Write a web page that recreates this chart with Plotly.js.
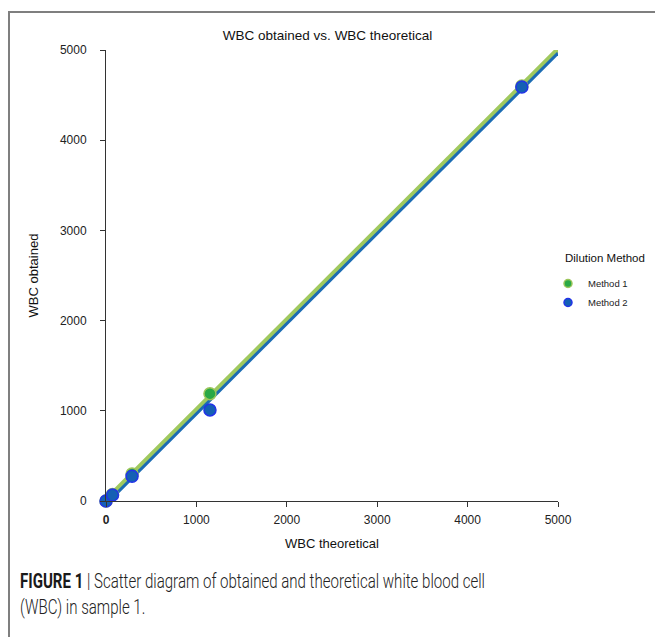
<!DOCTYPE html>
<html>
<head>
<meta charset="utf-8">
<script src="https://cdn.plot.ly/plotly-3.0.1.min.js"></script>
<style>
  html, body { margin: 0; padding: 0; background: #ffffff; }
  #frame { position: absolute; left: 8px; top: 11px; width: 660px; height: 640px;
           border-top: 2px solid #7f7f7f; border-left: 2px solid #7f7f7f; }
  #chart { position: absolute; left: 0; top: 0; width: 655px; height: 637px; }
  .caption { position: absolute; left: 20px; white-space: nowrap; transform-origin: 0 50%;
             font-family: Roboto, 'Liberation Sans', Arial, sans-serif; font-weight: 300;
             font-size: 21px; color: #222; line-height: 1; }
  .caption b { font-weight: 700; color: #1a1a1a; }
</style>
</head>
<body>
<div id="frame"></div>
<div id="chart"></div>
<div class="caption" id="cap1" style="top:571px"><b>FIGURE 1</b> | Scatter diagram of obtained and theoretical white blood cell</div>
<div class="caption" id="cap2" style="top:597px">(WBC) in sample 1.</div>
<script>
// Theoretical WBC counts (serial 1:4 dilutions) and the counts obtained by each method
const theoretical = [0, 72, 288, 1150, 4600];
const method1 = [0, 72, 300, 1190, 4600];
const method2 = [0, 66, 275, 1010, 4590];
const seriesNames = ['Method 1', 'Method 2'];
const axisTicks = [0, 1000, 2000, 3000, 4000, 5000];

// Least-squares fit of obtained vs. theoretical
function fit(xs, ys) {
  const n = xs.length;
  const mx = xs.reduce((a, b) => a + b, 0) / n;
  const my = ys.reduce((a, b) => a + b, 0) / n;
  let sxy = 0, sxx = 0;
  for (let i = 0; i < n; i++) { sxy += (xs[i] - mx) * (ys[i] - my); sxx += (xs[i] - mx) ** 2; }
  const slope = sxy / sxx;
  return { slope, intercept: my - slope * mx };
}
function fitLine(xs, ys) {
  const f = fit(xs, ys);
  const lx = [0, axisTicks[axisTicks.length - 1]];
  return { x: lx, y: lx.map(v => f.slope * v + f.intercept) };
}

const l1 = fitLine(theoretical, method1);
const l2 = fitLine(theoretical, method2);

const m1 = { color: '#2aa846', line: { color: '#9cc65b', width: 1.5 } };
const m2 = { color: '#1460b4', line: { color: '#2233e8', width: 1.5 } };

const traces = [
  { x: l1.x, y: l1.y, mode: 'lines', line: { color: '#a0c95e', width: 5 },
    showlegend: false, hoverinfo: 'skip', cliponaxis: false },
  { x: l2.x, y: l2.y, mode: 'lines', line: { color: '#1b6cb3', width: 3 },
    showlegend: false, hoverinfo: 'skip', cliponaxis: false },
  { x: theoretical, y: method1, name: seriesNames[0], legendgroup: 'm1', showlegend: false,
    mode: 'markers', cliponaxis: false, marker: Object.assign({ size: 12 }, m1) },
  { x: theoretical, y: method2, name: seriesNames[1], legendgroup: 'm2', showlegend: false,
    mode: 'markers', cliponaxis: false, marker: Object.assign({ size: 12 }, m2) },
  // legend entries with smaller key symbols
  { x: [null], y: [null], name: seriesNames[0], legendgroup: 'm1', mode: 'markers',
    marker: Object.assign({ size: 8 }, m1) },
  { x: [null], y: [null], name: seriesNames[1], legendgroup: 'm2', mode: 'markers',
    marker: Object.assign({ size: 8 }, m2) }
];

const font = 'Liberation Sans, Arial, sans-serif';
const plotW = 452, plotH = 451;

const layout = {
  width: 655, height: 637,
  margin: { l: 106, r: 97, t: 50, b: 136 },
  paper_bgcolor: 'rgba(0,0,0,0)',
  plot_bgcolor: 'rgba(0,0,0,0)',
  font: { family: font, size: 12, color: '#222' },
  title: { text: 'WBC obtained vs. WBC theoretical', x: 0.5, xanchor: 'center',
           y: 1 - 35 / 637, yanchor: 'middle', font: { size: 13.5, color: '#111' } },
  xaxis: {
    range: [0, 5000], tickvals: axisTicks,
    ticktext: axisTicks.map(v => v === 0 ? '<b>0</b>' : String(v)),
    showgrid: false, zeroline: false, showline: true, linecolor: '#333', linewidth: 1,
    ticks: 'outside', ticklen: 5, tickcolor: '#333', ticklabelstandoff: 3,
    title: { text: 'WBC theoretical', standoff: 12, font: { size: 13, color: '#111' } }
  },
  yaxis: {
    range: [0, 5000], tickvals: axisTicks,
    showgrid: false, zeroline: false, showline: true, linecolor: '#333', linewidth: 1,
    ticks: 'outside', ticklen: 5, tickcolor: '#333', ticklabelstandoff: 11,
    title: { text: 'WBC obtained', standoff: 18, font: { size: 13, color: '#111' } }
  },
  legend: {
    x: (548 - 106) / plotW, xanchor: 'left', y: (501 - 269) / plotH, yanchor: 'top',
    font: { size: 9.5, color: '#222' }, itemwidth: 30, tracegroupgap: 0,
    bgcolor: 'rgba(0,0,0,0)'
  },
  hovermode: false,
  annotations: [
    { xref: 'paper', yref: 'paper', x: (563 - 106) / plotW, y: (501 - 258) / plotH,
      xanchor: 'left', yanchor: 'middle', showarrow: false,
      text: 'Dilution Method', font: { size: 11.5, color: '#111' } }
  ]
};

Plotly.newPlot('chart', traces, layout, { displayModeBar: false, staticPlot: true });

// Condense the caption lines to the figure's caption width
const cap1 = document.getElementById('cap1');
const cap2 = document.getElementById('cap2');
const k = 465 / cap1.getBoundingClientRect().width;
cap1.style.transform = 'scaleX(' + k + ')';
cap2.style.transform = 'scaleX(' + k + ')';
</script>
</body>
</html>
